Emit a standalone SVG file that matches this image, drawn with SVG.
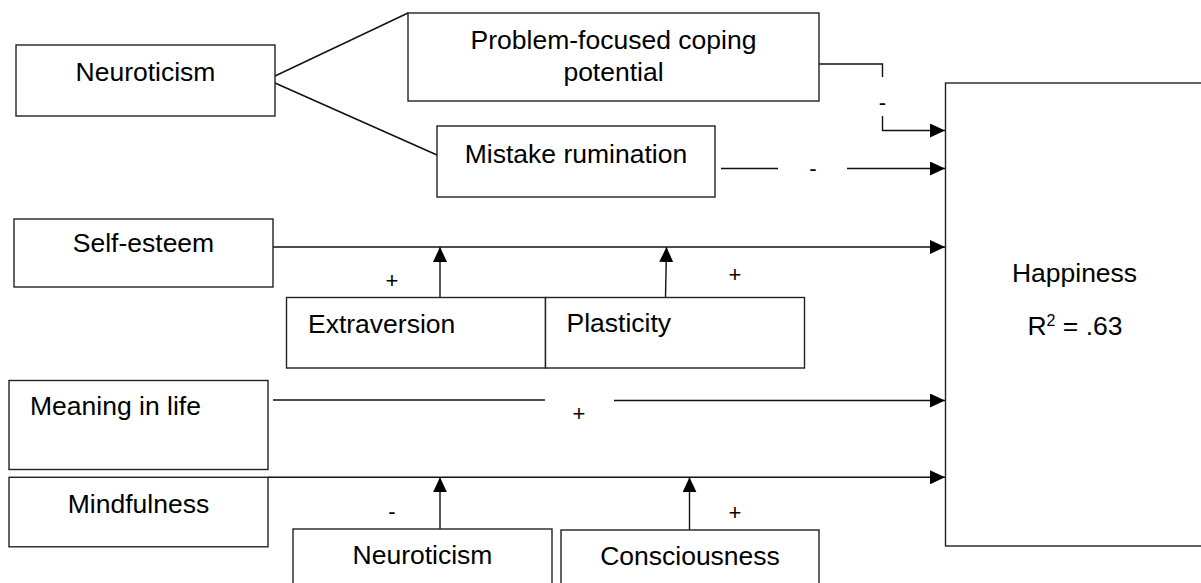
<svg xmlns="http://www.w3.org/2000/svg" width="1201" height="583" viewBox="0 0 1201 583">
  <defs>
    <marker id="arrow" markerWidth="15" markerHeight="14" refX="15" refY="7" orient="auto" markerUnits="userSpaceOnUse">
      <path d="M0,0 L15,7 L0,14 z" fill="#000"/>
    </marker>
    <style>
      .box { fill: #fff; stroke: #222; stroke-width: 1.4; }
      .lbl { font-family: "Liberation Sans", Arial, sans-serif; font-size: 26.5px; fill: #000; }
      .mid { text-anchor: middle; }
      .sign { font-family: "Liberation Sans", Arial, sans-serif; font-size: 22px; fill: #000; text-anchor: middle; }
      .wire { fill: none; stroke: #111; stroke-width: 1.4; }
      .arr { marker-end: url(#arrow); }
    </style>
  </defs>
  <rect width="1201" height="583" fill="#fff"/>

  <!-- connectors -->
  <g id="connectors">
    <line class="wire" x1="275" y1="76" x2="408" y2="13"/>
    <line class="wire" x1="275" y1="83" x2="437" y2="155"/>
    <!-- coping potential -> happiness, broken around the sign -->
    <polyline class="wire" points="819,64 882.5,64 882.5,77"/>
    <polyline class="wire arr" points="882.5,116 882.5,130.5 945,130.5"/>
    <text class="sign" x="882.5" y="110">-</text>
    <!-- rumination -> happiness -->
    <line class="wire" x1="721" y1="168.5" x2="778" y2="168.5"/>
    <line class="wire arr" x1="847" y1="168.5" x2="945" y2="168.5"/>
    <text class="sign" x="813" y="176">-</text>
    <!-- self-esteem -> happiness -->
    <line class="wire arr" x1="273" y1="247" x2="945" y2="247"/>
    <line class="wire arr" x1="440" y1="298" x2="440" y2="247"/>
    <line class="wire arr" x1="665.5" y1="298" x2="666.5" y2="247"/>
    <text class="sign" x="392" y="288">+</text>
    <text class="sign" x="735" y="282">+</text>
    <!-- meaning in life -> happiness -->
    <line class="wire" x1="273" y1="400" x2="545" y2="400"/>
    <line class="wire arr" x1="614" y1="400.5" x2="945" y2="400.5"/>
    <text class="sign" x="579" y="421">+</text>
    <!-- mindfulness -> happiness -->
    <line class="wire arr" x1="268" y1="477.3" x2="945" y2="477.3"/>
    <line class="wire arr" x1="440" y1="529" x2="440" y2="477.3"/>
    <line class="wire arr" x1="689.5" y1="530" x2="689.5" y2="477.3"/>
    <text class="sign" x="392" y="519">-</text>
    <text class="sign" x="735" y="520">+</text>
  </g>

  <g id="neuroticism">
    <rect class="box" x="16" y="45" width="259" height="71"/>
    <text class="lbl mid" x="145.5" y="81">Neuroticism</text>
  </g>
  <g id="coping">
    <rect class="box" x="408" y="13" width="411" height="88"/>
    <text class="lbl mid" x="613.5" y="49">Problem-focused coping</text>
    <text class="lbl mid" x="613.5" y="81">potential</text>
  </g>
  <g id="rumination">
    <rect class="box" x="437" y="126" width="278" height="71"/>
    <text class="lbl mid" x="576" y="163">Mistake rumination</text>
  </g>
  <g id="self-esteem">
    <rect class="box" x="14" y="219" width="259" height="68"/>
    <text class="lbl mid" x="143.5" y="252">Self-esteem</text>
  </g>
  <g id="extraversion">
    <rect class="box" x="286.5" y="297.5" width="259" height="70.5"/>
    <text class="lbl" x="308" y="333">Extraversion</text>
  </g>
  <g id="plasticity">
    <rect class="box" x="545.5" y="297.5" width="259" height="70.5"/>
    <text class="lbl" x="566.5" y="332">Plasticity</text>
  </g>
  <g id="meaning">
    <rect class="box" x="9" y="380.5" width="259" height="89"/>
    <text class="lbl" x="30" y="415">Meaning in life</text>
  </g>
  <g id="mindfulness">
    <rect class="box" x="9" y="477.3" width="259" height="69.5"/>
    <text class="lbl mid" x="138.5" y="513">Mindfulness</text>
  </g>
  <g id="neuroticism-moderator">
    <rect class="box" x="293" y="529" width="259" height="60"/>
    <text class="lbl mid" x="422.5" y="564">Neuroticism</text>
  </g>
  <g id="consciousness">
    <rect class="box" x="561" y="530" width="258" height="60"/>
    <text class="lbl mid" x="690" y="565">Consciousness</text>
  </g>
  <g id="happiness">
    <rect class="box" x="945.5" y="83" width="262" height="463"/>
    <text class="lbl mid" x="1074.5" y="282">Happiness</text>
    <text class="lbl mid" x="1075" y="335">R<tspan font-size="16" dy="-9">2</tspan><tspan dy="9"> = .63</tspan></text>
  </g>
</svg>
